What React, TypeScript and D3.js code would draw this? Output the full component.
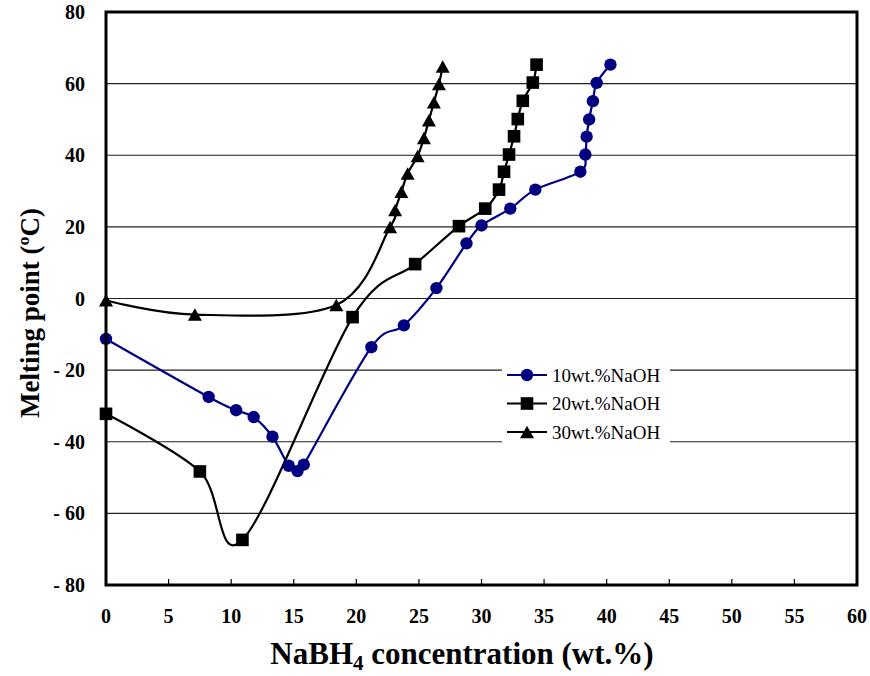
import React from 'react';
import * as d3 from 'd3';

// NaBH4 concentration (wt.%) vs melting point (°C)
const naoh10X = [0, 8.2, 10.4, 11.8, 13.3, 14.6, 15.3, 15.8, 21.2, 23.8, 26.4, 28.8, 30.0, 32.3, 34.3, 37.9, 38.3, 38.4, 38.6, 38.9, 39.2, 40.3];
const naoh10Y = [-11.3, -27.5, -31.2, -33.1, -38.6, -46.7, -48.2, -46.4, -13.6, -7.5, 2.9, 15.4, 20.4, 25.1, 30.4, 35.4, 40.2, 45.2, 50.0, 55.1, 60.2, 65.3];

const naoh20X = [0, 7.5, 10.9, 19.7, 24.7, 28.2, 30.3, 31.4, 31.8, 32.2, 32.6, 32.9, 33.3, 34.1, 34.4];
const naoh20Y = [-32.2, -48.3, -67.4, -5.2, 9.6, 20.2, 25.1, 30.4, 35.4, 40.2, 45.3, 50.1, 55.2, 60.3, 65.3];

const naoh30X = [0, 7.1, 18.4, 22.7, 23.1, 23.6, 24.1, 24.9, 25.4, 25.8, 26.2, 26.6, 26.9];
const naoh30Y = [-0.5, -4.5, -1.8, 20.0, 24.7, 29.8, 34.9, 39.8, 44.8, 49.8, 54.8, 59.9, 64.8];

const seriesNames = ['10wt.%NaOH', '20wt.%NaOH', '30wt.%NaOH'];
const xTicks = [0, 5, 10, 15, 20, 25, 30, 35, 40, 45, 50, 55, 60];
const yTicks = [-80, -60, -40, -20, 0, 20, 40, 60, 80];

const W = 870, H = 676;
const SERIF = "'Liberation Serif', 'Times New Roman', serif";

type Pt = { x: number; y: number };
const zip = (xs: number[], ys: number[]): Pt[] => xs.map((x, i) => ({ x, y: ys[i] }));

const SERIES = [
    { name: seriesNames[0], data: zip(naoh10X, naoh10Y), color: '#000080', marker: 'circle' },
    { name: seriesNames[1], data: zip(naoh20X, naoh20Y), color: '#000000', marker: 'square' },
    { name: seriesNames[2], data: zip(naoh30X, naoh30Y), color: '#000000', marker: 'triangle' },
];

function Marker({ type, cx, cy, color }: { type: string; cx: number; cy: number; color: string }) {
    if (type === 'circle') return <circle cx={cx} cy={cy} r={6.2} fill={color} />;
    if (type === 'square') return <rect x={cx - 6.3} y={cy - 6.3} width={12.6} height={12.6} fill={color} />;
    const w = 14, h = 12.5;
    return <path d={`M${cx},${cy - h / 2}L${cx + w / 2},${cy + h / 2}L${cx - w / 2},${cy + h / 2}Z`} fill={color} />;
}

export default function App() {
    const x = d3.scaleLinear().domain([0, 60]).range([106, 857]);
    const y = d3.scaleLinear().domain([-80, 80]).range([585, 12]);
    const line = d3.line<Pt>().x(d => x(d.x)).y(d => y(d.y)).curve(d3.curveCardinal.tension(0));

    const fmtY = (v: number) => (v < 0 ? `- ${Math.abs(v)}` : `${v}`);

    // legend
    const lgX = 507, lgY = [375, 403.5, 432];

    return (
        <div style={{ position: 'fixed', left: 0, top: 0, width: W, height: H, background: '#fff' }}>
            <svg width={W} height={H} style={{ display: 'block', fontFamily: SERIF }}>
                <rect width={W} height={H} fill="#fff" />

                {/* gridlines */}
                {yTicks.filter(t => t > -80 && t < 80).map(t => (
                    <line key={t} x1={x(0)} x2={x(60)} y1={y(t)} y2={y(t)} stroke="#222" strokeWidth={1.1} />
                ))}

                {/* x ticks (inside) */}
                {xTicks.slice(1, -1).map(t => (
                    <line key={t} x1={x(t)} x2={x(t)} y1={y(-80)} y2={y(-80) - 6} stroke="#000" strokeWidth={1.2} />
                ))}

                {/* series lines */}
                {SERIES.map(s => (
                    <path key={s.name} d={line(s.data) || ''} fill="none" stroke={s.color} strokeWidth={2.2} />
                ))}

                {/* markers */}
                {SERIES.map(s => (
                    <g key={s.name + 'm'}>
                        {s.data.map((d, i) => (
                            <Marker key={i} type={s.marker} cx={x(d.x)} cy={y(d.y)} color={s.color} />
                        ))}
                    </g>
                ))}

                {/* frame */}
                <rect x={x(0)} y={y(80)} width={x(60) - x(0)} height={y(-80) - y(80)} fill="none" stroke="#000" strokeWidth={3} />

                {/* legend */}
                <rect x={502} y={359} width={168} height={88} fill="#fff" />
                {SERIES.map((s, i) => (
                    <g key={s.name + 'l'}>
                        <line x1={lgX} x2={lgX + 40} y1={lgY[i]} y2={lgY[i]} stroke={s.color} strokeWidth={2.2} />
                        <Marker type={s.marker} cx={lgX + 20} cy={lgY[i]} color={s.color} />
                        <text x={lgX + 45} y={lgY[i] + 6.5} fontSize={19} fill="#000">{s.name}</text>
                    </g>
                ))}

                {/* y tick labels */}
                {yTicks.map(t => (
                    <text key={t} x={85} y={y(t) + 7} textAnchor="end" fontSize={20} fontWeight="bold">{fmtY(t)}</text>
                ))}

                {/* x tick labels */}
                {xTicks.map(t => (
                    <text key={t} x={x(t)} y={623} textAnchor="middle" fontSize={20} fontWeight="bold">{t}</text>
                ))}

                {/* axis titles */}
                <text x={462} y={664} textAnchor="middle" fontSize={31} fontWeight="bold">
                    NaBH<tspan fontSize={21} dy={6}>4</tspan><tspan dy={-6}> concentration (wt.%)</tspan>
                </text>
                <text transform={`translate(39,313) rotate(-90)`} textAnchor="middle" fontSize={27} fontWeight="bold">
                    Melting point (ºC)
                </text>
            </svg>
        </div>
    );
}
